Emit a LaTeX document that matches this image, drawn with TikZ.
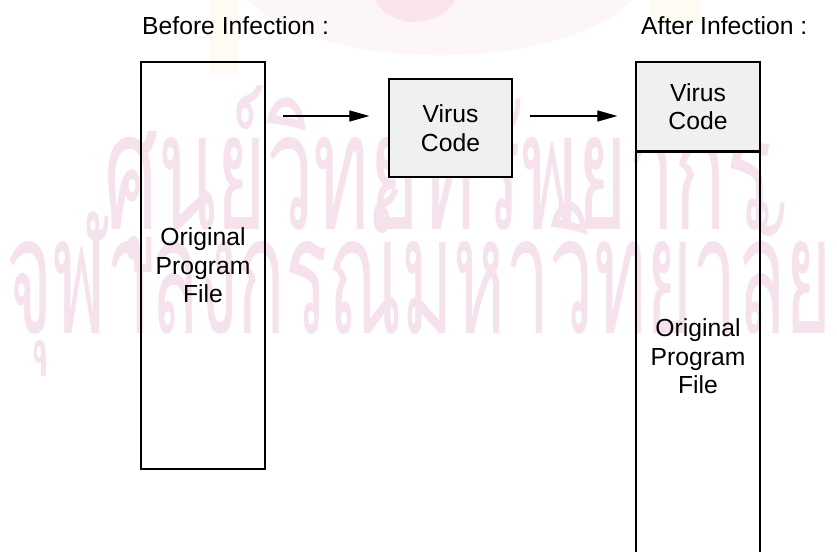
\documentclass[tikz,border=0pt]{standalone}
\usepackage{fontspec}
\setmainfont{Liberation Sans}
\newfontfamily\thaifont[Script=Thai]{Loma}
\usetikzlibrary{arrows.meta}

\definecolor{boxfill}{RGB}{240,240,240}
\definecolor{wmpink}{RGB}{245,226,236}
\definecolor{wmhalo}{RGB}{253,246,247}
\definecolor{wmcrown}{RGB}{250,230,234}
\definecolor{wmgold}{RGB}{253,251,242}

\begin{document}
\begin{tikzpicture}[x=1pt,y=-1pt,
  txt/.style={font=\fontsize{24.7}{28.5}\selectfont, text=black},
  heading/.style={txt, inner sep=0pt, anchor=base west},
  filebox/.style={txt, draw=black, line width=1.2pt, inner sep=0pt,
    align=center, minimum width=124pt},
  codebox/.style={filebox, fill=boxfill},
  flow/.style={draw=black, line width=1.1pt,
    -{Triangle[length=20pt,width=11pt]}},
  watermark/.style={inner sep=0pt, text=wmpink,
    font=\fontsize{100}{100}\thaifont}
]
\useasboundingbox (0,0) rectangle (837,551);
\clip (0,0) rectangle (837,551);
\fill[white] (0,0) rectangle (837,551);

% faint background emblem and library watermark
\fill[wmhalo] (440,-30) ellipse [x radius=205, y radius=85];
\fill[wmcrown] (415,-10) ellipse [x radius=42, y radius=32];
\fill[wmgold] (210,0) rectangle (238,75);
\fill[wmgold] (650,0) rectangle (700,25);
\node[watermark, anchor=base] (wmA) at (438,229)
  {\scalebox{0.85}[1.64]{ศูนย์วิทยทรัพยากร}};
\node[watermark, anchor=base west] (wmB) at (6,333)
  {\scalebox{0.79}[1.64]{จุฬาลงกรณ์มหาวิทยาลัย}};

% headings
\node[heading] (before) at (142,35) {Before Infection :};
\node[heading] (after) at (641,35) {After Infection :};

% program file before infection
\node[filebox, minimum height=407pt] (orig) at (203,265.5)
  {Original\\Program\\File};

% virus code on its own
\node[codebox, minimum width=123pt, minimum height=98pt] (virus)
  at (450.5,128) {Virus\\Code};

% program file after infection: virus code prepended
\node[codebox, minimum height=89pt] (infvirus) at (698,106.5)
  {Virus\\Code};
\node[filebox, minimum height=408pt, anchor=north] (infprog)
  at (infvirus.south) {Original\\Program\\File};

% flow arrows
\draw[flow, shorten <=17pt, shorten >=19pt]
  ([yshift=12pt]orig.east |- virus.west) -- ([yshift=12pt]virus.west);
\draw[flow, shorten <=17pt, shorten >=18pt]
  ([yshift=12pt]virus.east) -- ([yshift=12pt]infvirus.west |- virus.east);
\end{tikzpicture}
\end{document}
